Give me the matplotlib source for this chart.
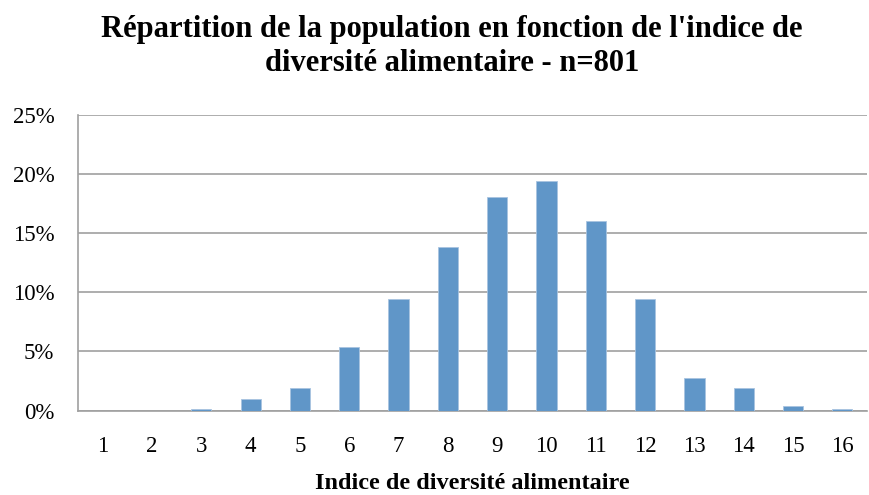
import numpy as np
from matplotlib import pyplot as plt
from matplotlib.ticker import PercentFormatter

# indice de diversité alimentaire, share of population (%)
indices = list(range(1, 17))
shares = [0.0, 0.0, 0.12, 1.0, 1.87, 5.37, 9.49, 13.86, 18.1, 19.48, 16.1, 9.49, 2.75, 1.87, 0.37, 0.12]

title = "Répartition de la population en fonction de l'indice de\ndiversité alimentaire - n=801"
x_label = "Indice de diversité alimentaire"

plt.rcParams['font.family'] = ['Liberation Serif', 'DejaVu Serif']

fig = plt.figure(figsize=(8.69, 4.95), dpi=100)
axes = fig.add_axes([0.0898, 0.1707, 0.9079, 0.596])

x = np.arange(len(indices))
axes.bar(x, shares, width=0.41, color='#6096c8', edgecolor='#a8c4e0', linewidth=0.6, zorder=3)

axes.set_xlim(-0.5, len(indices) - 0.5)
axes.set_ylim(0, 25)
axes.set_yticks(np.arange(0, 26, 5))
axes.yaxis.set_major_formatter(PercentFormatter(decimals=0))
axes.set_xticks(x)
axes.set_xticklabels([str(i) for i in indices])
axes.tick_params(axis='both', length=0, labelsize=16.5)
axes.tick_params(axis='y', pad=17)
axes.tick_params(axis='x', pad=18)
axes.grid(axis='y', color='#a0a0a0', linewidth=1.2, zorder=0)

for side in ['top', 'right']:
    axes.spines[side].set_visible(False)
for side in ['left', 'bottom']:
    axes.spines[side].set_color('#a0a0a0')
    axes.spines[side].set_linewidth(1.2)

axes.set_xlabel(x_label, fontsize=17.5, fontweight='bold', labelpad=12)
fig.text(0.52, 0.906, title, ha='center', va='center', fontsize=22, fontweight='bold',
         linespacing=1.22)

fig.savefig("out.png", dpi=100)
